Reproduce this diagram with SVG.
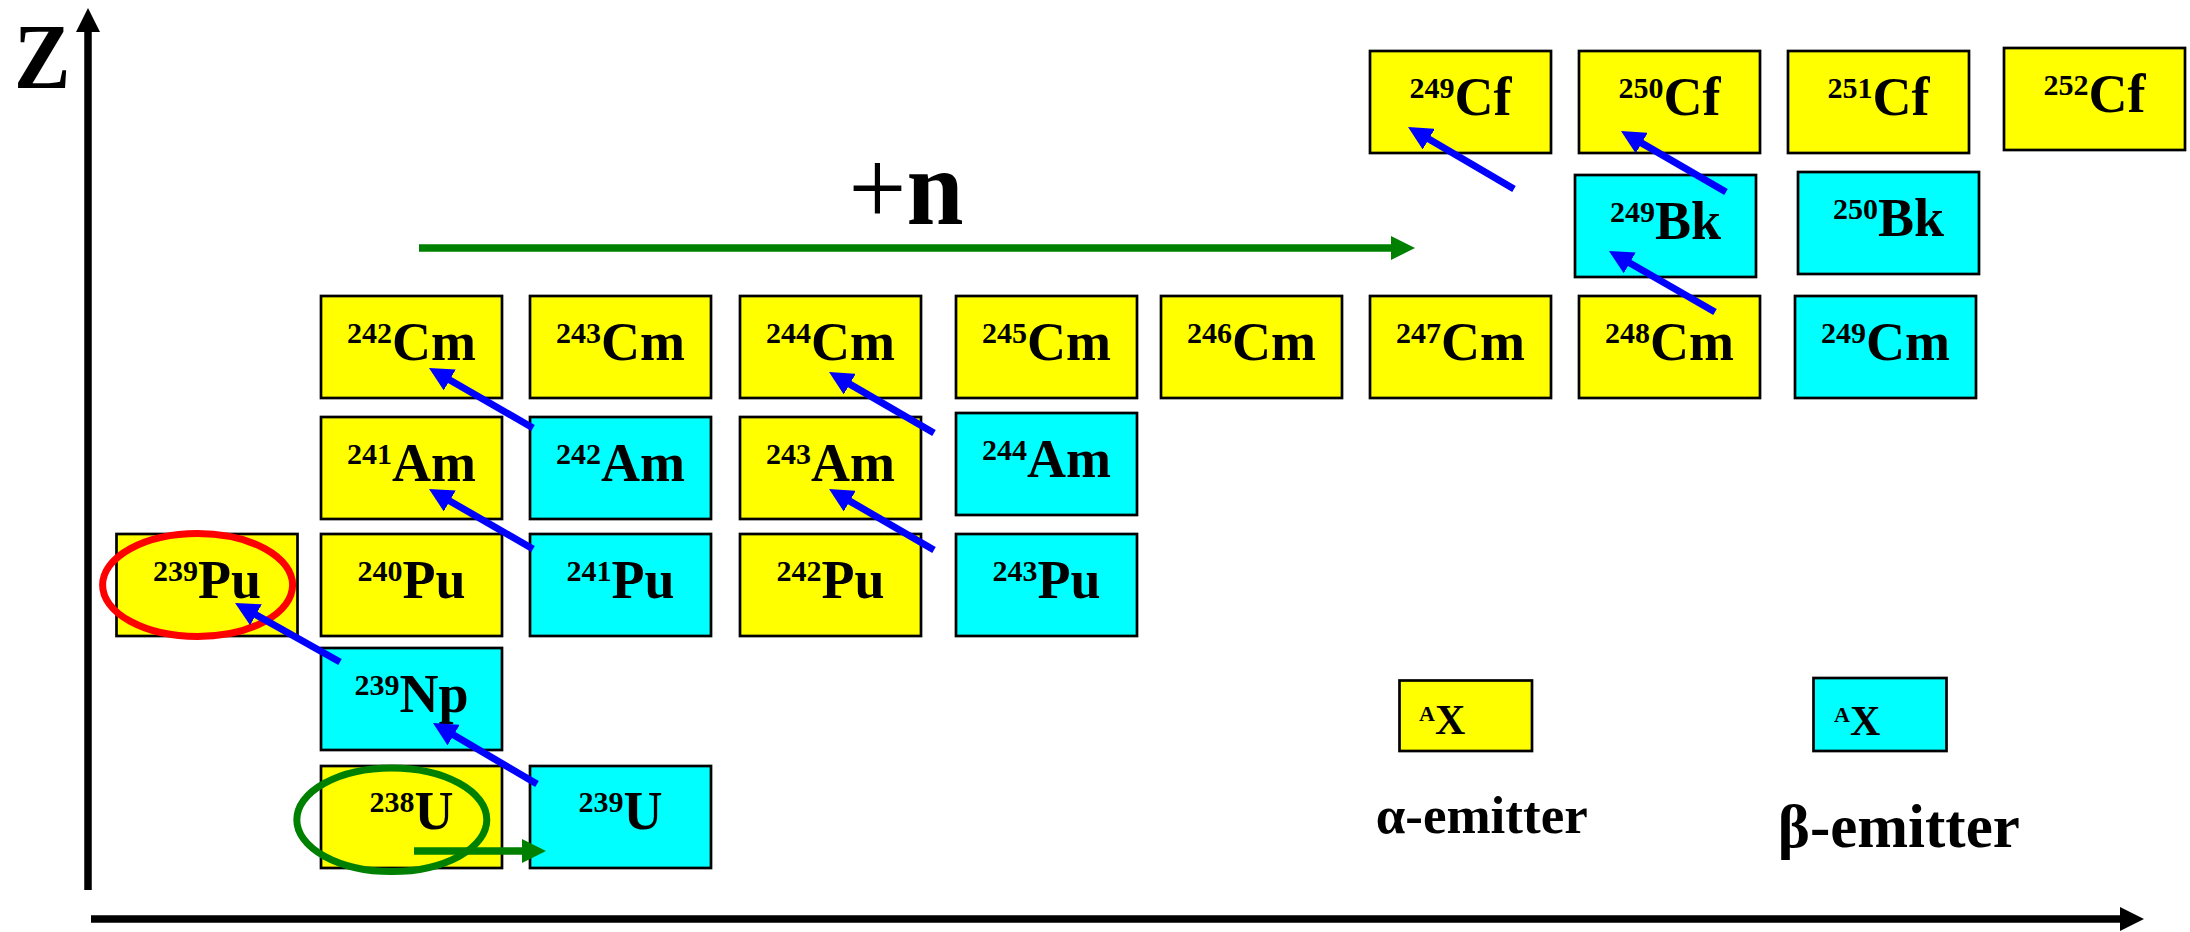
<svg xmlns="http://www.w3.org/2000/svg" width="2190" height="932" viewBox="0 0 2190 932">
<style>
.a{stroke:#000;stroke-width:2.7}
.y{fill:#ffff00}
.c{fill:#00ffff}
text{font-family:"Liberation Serif","Times New Roman",serif;font-weight:bold;fill:#000}
.lb{font-size:54px;text-anchor:middle}
.sp{font-size:30px}
.lg{font-size:42px}
.lgs{font-size:22px}
.blue{stroke:#0000ff;stroke-width:7;fill:none;marker-end:url(#mb)}
.grn{stroke:#008000;stroke-width:7.5;fill:none;marker-end:url(#mg)}
.ax{stroke:#000;stroke-width:7.5;fill:none;marker-end:url(#mk)}
</style>
<defs>
<marker id="mb" markerUnits="userSpaceOnUse" markerWidth="24" markerHeight="24" viewBox="0 0 24 24" refX="1" refY="12" orient="auto"><path d="M0,0 L24,12 L0,24 z" fill="#0000ff"/></marker>
<marker id="mg" markerUnits="userSpaceOnUse" markerWidth="24" markerHeight="24" viewBox="0 0 24 24" refX="1" refY="12" orient="auto"><path d="M0,0 L24,12 L0,24 z" fill="#008000"/></marker>
<marker id="mk" markerUnits="userSpaceOnUse" markerWidth="24" markerHeight="24" viewBox="0 0 24 24" refX="1" refY="12" orient="auto"><path d="M0,0 L24,12 L0,24 z" fill="#000"/></marker>
</defs>
<rect width="2190" height="932" fill="#fff"/>

<g id="axes">
<path class="ax" d="M88,890 V31"/>
<path class="ax" d="M91,919 H2121"/>
<text transform="translate(14,87.5) scale(0.9,1)" font-size="94">Z</text>
</g>

<g id="nodes">
<g id="Pu239"><rect class="a y" x="116.5" y="534" width="181" height="102"/><text class="lb" x="207" y="598"><tspan class="sp" dy="-17">239</tspan><tspan dy="17">Pu</tspan></text></g>
<g id="Pu240"><rect class="a y" x="321" y="534" width="181" height="102"/><text class="lb" x="411.5" y="598"><tspan class="sp" dy="-17">240</tspan><tspan dy="17">Pu</tspan></text></g>
<g id="Pu241"><rect class="a c" x="530" y="534" width="181" height="102"/><text class="lb" x="620.5" y="598"><tspan class="sp" dy="-17">241</tspan><tspan dy="17">Pu</tspan></text></g>
<g id="Pu242"><rect class="a y" x="740" y="534" width="181" height="102"/><text class="lb" x="830.5" y="598"><tspan class="sp" dy="-17">242</tspan><tspan dy="17">Pu</tspan></text></g>
<g id="Pu243"><rect class="a c" x="956" y="534" width="181" height="102"/><text class="lb" x="1046.5" y="598"><tspan class="sp" dy="-17">243</tspan><tspan dy="17">Pu</tspan></text></g>

<g id="Am241"><rect class="a y" x="321" y="417" width="181" height="102"/><text class="lb" x="411.5" y="481"><tspan class="sp" dy="-17">241</tspan><tspan dy="17">Am</tspan></text></g>
<g id="Am242"><rect class="a c" x="530" y="417" width="181" height="102"/><text class="lb" x="620.5" y="481"><tspan class="sp" dy="-17">242</tspan><tspan dy="17">Am</tspan></text></g>
<g id="Am243"><rect class="a y" x="740" y="417" width="181" height="102"/><text class="lb" x="830.5" y="481"><tspan class="sp" dy="-17">243</tspan><tspan dy="17">Am</tspan></text></g>
<g id="Am244"><rect class="a c" x="956" y="413" width="181" height="102"/><text class="lb" x="1046.5" y="477"><tspan class="sp" dy="-17">244</tspan><tspan dy="17">Am</tspan></text></g>

<g id="Cm242"><rect class="a y" x="321" y="296" width="181" height="102"/><text class="lb" x="411.5" y="360"><tspan class="sp" dy="-17">242</tspan><tspan dy="17">Cm</tspan></text></g>
<g id="Cm243"><rect class="a y" x="530" y="296" width="181" height="102"/><text class="lb" x="620.5" y="360"><tspan class="sp" dy="-17">243</tspan><tspan dy="17">Cm</tspan></text></g>
<g id="Cm244"><rect class="a y" x="740" y="296" width="181" height="102"/><text class="lb" x="830.5" y="360"><tspan class="sp" dy="-17">244</tspan><tspan dy="17">Cm</tspan></text></g>
<g id="Cm245"><rect class="a y" x="956" y="296" width="181" height="102"/><text class="lb" x="1046.5" y="360"><tspan class="sp" dy="-17">245</tspan><tspan dy="17">Cm</tspan></text></g>
<g id="Cm246"><rect class="a y" x="1161" y="296" width="181" height="102"/><text class="lb" x="1251.5" y="360"><tspan class="sp" dy="-17">246</tspan><tspan dy="17">Cm</tspan></text></g>
<g id="Cm247"><rect class="a y" x="1370" y="296" width="181" height="102"/><text class="lb" x="1460.5" y="360"><tspan class="sp" dy="-17">247</tspan><tspan dy="17">Cm</tspan></text></g>
<g id="Cm248"><rect class="a y" x="1579" y="296" width="181" height="102"/><text class="lb" x="1669.5" y="360"><tspan class="sp" dy="-17">248</tspan><tspan dy="17">Cm</tspan></text></g>
<g id="Cm249"><rect class="a c" x="1795" y="296" width="181" height="102"/><text class="lb" x="1885.5" y="360"><tspan class="sp" dy="-17">249</tspan><tspan dy="17">Cm</tspan></text></g>

<g id="Bk249"><rect class="a c" x="1575" y="175" width="181" height="102"/><text class="lb" x="1665.5" y="238.5"><tspan class="sp" dy="-17">249</tspan><tspan dy="17">Bk</tspan></text></g>
<g id="Bk250"><rect class="a c" x="1798" y="172" width="181" height="102"/><text class="lb" x="1888.5" y="235.5"><tspan class="sp" dy="-17">250</tspan><tspan dy="17">Bk</tspan></text></g>

<g id="Cf249"><rect class="a y" x="1370" y="51" width="181" height="102"/><text class="lb" x="1460.5" y="115"><tspan class="sp" dy="-17">249</tspan><tspan dy="17">Cf</tspan></text></g>
<g id="Cf250"><rect class="a y" x="1579" y="51" width="181" height="102"/><text class="lb" x="1669.5" y="115"><tspan class="sp" dy="-17">250</tspan><tspan dy="17">Cf</tspan></text></g>
<g id="Cf251"><rect class="a y" x="1788" y="51" width="181" height="102"/><text class="lb" x="1878.5" y="115"><tspan class="sp" dy="-17">251</tspan><tspan dy="17">Cf</tspan></text></g>
<g id="Cf252"><rect class="a y" x="2004" y="48" width="181" height="102"/><text class="lb" x="2094.5" y="112"><tspan class="sp" dy="-17">252</tspan><tspan dy="17">Cf</tspan></text></g>

<g id="Np239"><rect class="a c" x="321" y="648" width="181" height="102"/><text class="lb" x="411.5" y="712"><tspan class="sp" dy="-17">239</tspan><tspan dy="17">Np</tspan></text></g>
<g id="U238"><rect class="a y" x="321" y="766" width="181" height="102"/><text class="lb" x="411.5" y="829"><tspan class="sp" dy="-17">238</tspan><tspan dy="17">U</tspan></text></g>
<g id="U239"><rect class="a c" x="530" y="766" width="181" height="102"/><text class="lb" x="620.5" y="829"><tspan class="sp" dy="-17">239</tspan><tspan dy="17">U</tspan></text></g>
</g>

<g id="legend">
<g id="legend-alpha"><rect class="a y" x="1399.5" y="680.5" width="132.5" height="70.5"/><text class="lg" x="1419" y="733.5"><tspan class="lgs" dy="-12.5">A</tspan><tspan dy="12.5">X</tspan></text>
<text x="1481.7" y="833.3" font-size="53" text-anchor="middle">α-emitter</text></g>
<g id="legend-beta"><rect class="a c" x="1813.5" y="678" width="133" height="73"/><text class="lg" x="1834" y="735"><tspan class="lgs" dy="-13">A</tspan><tspan dy="13">X</tspan></text>
<text x="1898.8" y="847" font-size="61" text-anchor="middle">β-emitter</text></g>
</g>

<g id="highlights" fill="none">
<ellipse cx="197.6" cy="585" rx="95" ry="51.5" stroke="#ff0000" stroke-width="7"/>
<ellipse cx="391.8" cy="819.7" rx="95" ry="51.8" stroke="#008000" stroke-width="7"/>
</g>

<g id="connectors">
<text transform="translate(906,223.5) scale(0.95,1)" font-size="108" text-anchor="middle"><tspan font-weight="normal">+</tspan>n</text>
<path class="grn" d="M419,248 H1392"/>
<path class="grn" d="M414,851 H523"/>
<path class="blue" d="M537,784 L452.8,734.6"/>
<path class="blue" d="M340,662 L255.1,614.3"/>
<path class="blue" d="M533,549 L448.9,500.5"/>
<path class="blue" d="M533,428 L448.9,379.5"/>
<path class="blue" d="M934,550 L848.9,500.6"/>
<path class="blue" d="M934,433 L848.9,383.6"/>
<path class="blue" d="M1715,312 L1628.9,262.5"/>
<path class="blue" d="M1726,192 L1640.9,142.6"/>
<path class="blue" d="M1514,189 L1427.9,138.6"/>
</g>
</svg>
